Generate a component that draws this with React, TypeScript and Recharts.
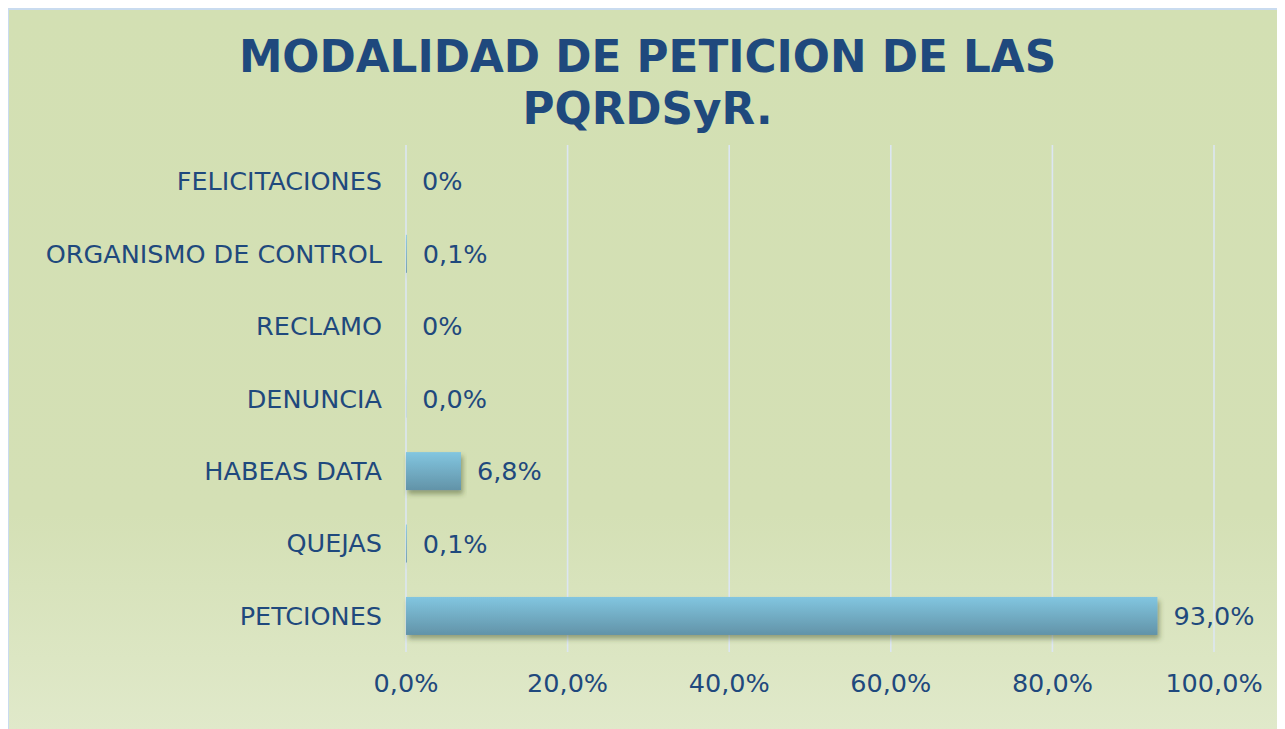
import { BarChart, Bar, XAxis, YAxis, CartesianGrid, LabelList } from "recharts";

const categories = [
  "FELICITACIONES",
  "ORGANISMO DE CONTROL",
  "RECLAMO",
  "DENUNCIA",
  "HABEAS DATA",
  "QUEJAS",
  "PETCIONES",
];
const values = [0, 0.1, 0, 0.02, 6.8, 0.1, 93.0];
const valueLabels = ["0%", "0,1%", "0%", "0,0%", "6,8%", "0,1%", "93,0%"];
const xTicks = [0, 20, 40, 60, 80, 100];
const titleLines = ["MODALIDAD DE PETICION DE LAS", "PQRDSyR."];

const TEXT = "#1f497d";
const FONT = "'DejaVu Sans', Verdana, sans-serif";

const data = categories.map((name, i) => ({ name, value: values[i], label: valueLabels[i] }));

const BarShape = (props: any) => {
  const { x, y, width, height } = props;
  if (!width || width <= 0) return null;
  return (
    <rect
      x={x}
      y={y}
      width={width}
      height={height}
      fill="url(#barGrad)"
      filter="url(#barShadow)"
    />
  );
};

const App = () => {
  return (
    <div
      style={{
        position: "relative",
        width: 1274,
        height: 724,
        marginLeft: -1,
        boxSizing: "border-box",
        border: "2px solid #c9dbef",
        background: "linear-gradient(180deg, #d3e0b3 0%, #d4e0b5 70%, #e0e9ca 100%)",
        fontFamily: FONT,
      }}
    >
      <BarChart
        width={1270}
        height={720}
        data={data}
        layout="vertical"
        margin={{ top: 135, right: 65, left: 0, bottom: 0 }}
        barCategoryGap="24%"
      >
        <defs>
          <linearGradient id="barGrad" x1="0" y1="0" x2="0" y2="1">
            <stop offset="0%" stopColor="#82c6e0" />
            <stop offset="100%" stopColor="#6293a8" />
          </linearGradient>
          <filter id="barShadow" x="-5%" y="-20%" width="115%" height="160%">
            <feDropShadow dx="2" dy="4" stdDeviation="2.5" floodColor="#3a4a20" floodOpacity="0.45" />
          </filter>
        </defs>
        <CartesianGrid horizontal={false} stroke="#dce6f2" strokeWidth={1.6} />
        <XAxis
          type="number"
          domain={[0, 100]}
          ticks={xTicks}
          tickFormatter={(v: number) => `${v},0%`}
          axisLine={false}
          tickLine={false}
          tickSize={0}
          tickMargin={22}
          height={78}
          tick={{ fill: TEXT, fontSize: 25.5, fontFamily: FONT }}
        />
        <YAxis
          type="category"
          dataKey="name"
          width={397}
          axisLine={false}
          tickLine={false}
          tickSize={0}
          tickMargin={24}
          tick={{ fill: TEXT, fontSize: 25.5, fontFamily: FONT }}
        />
        <Bar dataKey="value" shape={BarShape} isAnimationActive={false}>
          <LabelList
            dataKey="label"
            position="right"
            offset={16}
            fill={TEXT}
            fontSize={25.5}
            fontFamily={FONT}
          />
        </Bar>
      </BarChart>
      <svg
        width={1270}
        height={720}
        style={{ position: "absolute", left: 0, top: 0, pointerEvents: "none" }}
      >
        {titleLines.map((line, i) => (
          <text
            key={line}
            x={638.5}
            y={62 + i * 52}
            textAnchor="middle"
            fill={TEXT}
            fontSize={43.7}
            fontWeight="bold"
            fontFamily={FONT}
          >
            {line}
          </text>
        ))}
      </svg>
    </div>
  );
};

export default App;
